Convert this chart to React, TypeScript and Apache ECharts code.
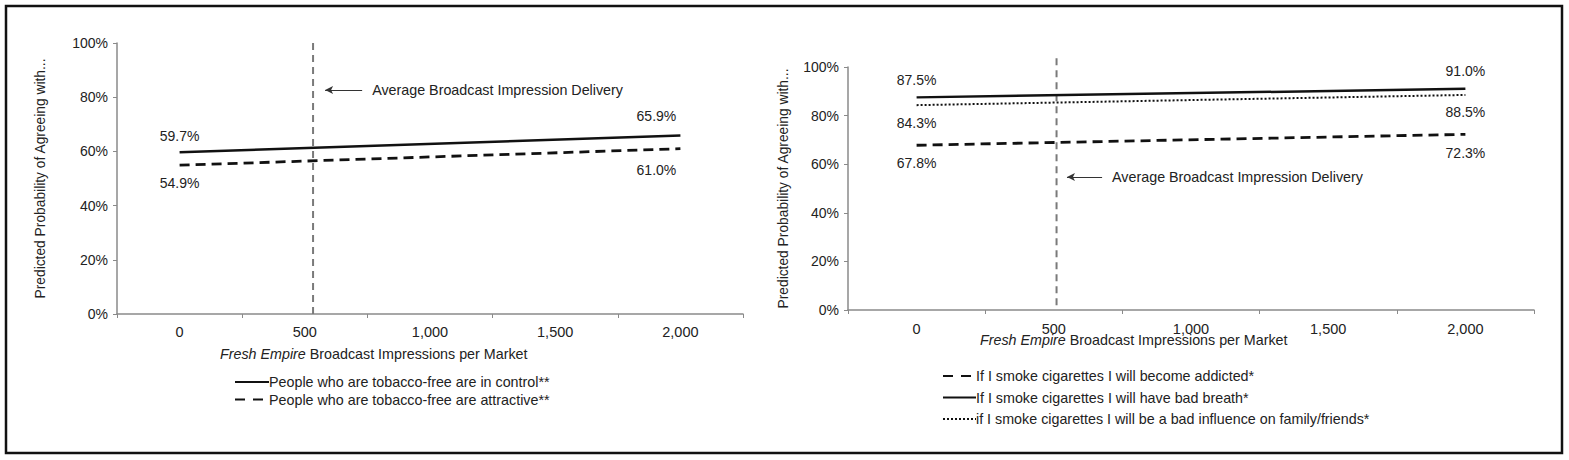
import React, { useEffect, useRef } from "react";
import * as echarts from "echarts";

// ---- data ----
const xCategories = ["0", "500", "1,000", "1,500", "2,000"];
const yTicks = [0, 20, 40, 60, 80, 100];
// Left panel (values only labelled at 0 and 2,000; straight lines between)
const inControl = [59.7, null, null, null, 65.9];
const attractive = [54.9, null, null, null, 61.0];
// Right panel
const addicted = [67.8, null, null, null, 72.3];
const badBreath = [87.5, null, null, null, 91.0];
const badInfluence = [84.3, null, null, null, 88.5];
// average broadcast impression delivery marker (as drawn in each panel)
const avgLeft = 533;
const avgRight = 510;

const leftNames = [
  "People who are tobacco-free are in control**",
  "People who are tobacco-free are attractive**",
];
const rightNames = [
  "If I smoke cigarettes I will become addicted*",
  "If I smoke cigarettes I will have bad breath*",
  "if I smoke cigarettes I will be a bad influence on family/friends*",
];
const avgText = "Average Broadcast Impression Delivery";
const yName = "Predicted Probability of Agreeing with...";

const FONT = "Liberation Sans, Arial, Helvetica, sans-serif";
const TXT = "#222";
const AX = "#8a8a8a";

function labelled(
  vals: (number | null)[],
  startPos: "top" | "bottom",
  endPos: "top" | "bottom",
  startDist: number,
  endDist: number,
  endOffsetX: number
) {
  return vals.map((v, i) => {
    if (v === null) return null;
    if (i === 0)
      return {
        value: v,
        label: { show: true, position: startPos, distance: startDist },
      };
    if (i === vals.length - 1)
      return {
        value: v,
        label: {
          show: true,
          position: endPos,
          distance: endDist,
          offset: [endOffsetX, 0],
        },
      };
    return { value: v };
  });
}

const labelStyle = {
  show: false,
  color: TXT,
  fontSize: 14,
  fontFamily: FONT,
  formatter: (p: any) => `${Number(p.value).toFixed(1)}%`,
};

const DASH = [10, 6];
const LEGEND_DASH = [10, 8, 10, 30];

export default function App() {
  const ref = useRef<HTMLDivElement>(null);
  useEffect(() => {
    if (!ref.current) return;
    const chart = echarts.init(ref.current, undefined, { renderer: "svg" });

    const catAxis = (grid: number, margin: number) => ({
      type: "category",
      gridIndex: grid,
      data: xCategories,
      boundaryGap: true,
      axisLine: { onZero: false, lineStyle: { color: AX, width: 1.5 } },
      axisTick: { show: true, length: 4, lineStyle: { color: AX } },
      axisLabel: { color: TXT, fontSize: 14.5, fontFamily: FONT, margin },
    });
    const hiddenX = (grid: number) => ({
      type: "value",
      gridIndex: grid,
      min: -250,
      max: 2250,
      show: false,
    });
    const valAxis = (grid: number, gap: number) => ({
      type: "value",
      gridIndex: grid,
      min: 0,
      max: 100,
      interval: 20,
      splitLine: { show: false },
      axisLine: { show: true, onZero: false, lineStyle: { color: AX, width: 1.5 } },
      axisTick: { show: true, length: 4, lineStyle: { color: AX } },
      axisLabel: {
        color: TXT,
        fontSize: 14,
        fontFamily: FONT,
        margin: 9,
        formatter: (v: number) => (yTicks.includes(v) ? `${v}%` : ""),
      },
      name: yName,
      nameLocation: "middle",
      nameRotate: 90,
      nameGap: gap,
      nameTextStyle: { color: TXT, fontSize: 13.8, fontFamily: FONT },
    });

    const dataLine = (
      name: string,
      xi: number,
      yi: number,
      data: any[],
      type: any,
      width = 2.5
    ) => ({
      name,
      type: "line",
      xAxisIndex: xi,
      yAxisIndex: yi,
      data,
      connectNulls: true,
      symbol: "circle",
      symbolSize: 1,
      showSymbol: true,
      color: "#111",
      itemStyle: { color: "transparent", borderWidth: 0 },
      lineStyle: { color: "#111", width, type },
      label: labelStyle,
      z: 3,
    });

    const avgSeries = (
      xi: number,
      yi: number,
      avg: number,
      y0: number,
      y1: number,
      arrowFrom: number,
      arrowTo: number,
      arrowY: number
    ) => ({
      type: "line",
      xAxisIndex: xi,
      yAxisIndex: yi,
      data: [
        [avg, y0],
        [avg, y1],
      ],
      clip: false,
      symbol: "none",
      showSymbol: false,
      lineStyle: { color: "#7a7a7a", width: 2, type: [7, 5] },
      silent: true,
      z: 2,
      markLine: {
        silent: true,
        symbol: ["arrow", "none"],
        symbolSize: [6, 8],
        lineStyle: { color: "#333", width: 1, type: "solid" },
        label: {
          show: true,
          position: "end",
          distance: 10,
          color: TXT,
          fontSize: 14.3,
          fontFamily: FONT,
          formatter: avgText,
        },
        data: [
          [
            { coord: [arrowFrom, arrowY], symbol: "arrow" },
            { coord: [arrowTo, arrowY], symbol: "none" },
          ],
        ],
      },
    });

    const legendTxt = { color: TXT, fontSize: 14.3, fontFamily: FONT, padding: [0, 0, 0, -5] };

    const option: any = {
      animation: false,
      backgroundColor: "#fff",
      textStyle: { fontFamily: FONT },
      grid: [
        { left: 117, top: 43, width: 626, height: 271 },
        { left: 848, top: 67, width: 686, height: 243 },
      ],
      xAxis: [catAxis(0, 10), hiddenX(0), catAxis(1, 11), hiddenX(1)],
      yAxis: [valAxis(0, 70), valAxis(1, 58)],
      legend: [
        {
          orient: "vertical",
          left: 229,
          top: 370,
          itemWidth: 34,
          itemHeight: 14,
          itemGap: 3.5,
          itemStyle: { color: "transparent", borderWidth: 0 },
          textStyle: legendTxt,
          data: [
            { name: leftNames[0] },
            { name: leftNames[1], lineStyle: { type: LEGEND_DASH } },
          ],
          selectedMode: false,
        },
        {
          orient: "vertical",
          left: 937,
          top: 364,
          itemWidth: 33,
          itemHeight: 14,
          itemGap: 7.5,
          itemStyle: { color: "transparent", borderWidth: 0 },
          textStyle: legendTxt,
          data: [
            { name: rightNames[0], lineStyle: { type: LEGEND_DASH } },
            { name: rightNames[1] },
            { name: rightNames[2] },
          ],
          selectedMode: false,
        },
      ],
      series: [
        dataLine(leftNames[0], 0, 0, labelled(inControl, "top", "top", 9, 12, -24), "solid"),
        dataLine(leftNames[1], 0, 0, labelled(attractive, "bottom", "bottom", 10, 14, -24), DASH, 2.8),
        avgSeries(1, 0, avgLeft, 0, 100, 581, 729, 82.7),
        dataLine(rightNames[0], 2, 1, labelled(addicted, "bottom", "bottom", 10, 11, 0), DASH, 2.8),
        dataLine(rightNames[1], 2, 1, labelled(badBreath, "top", "top", 10, 10, 0), "solid"),
        dataLine(rightNames[2], 2, 1, labelled(badInfluence, "bottom", "bottom", 10, 10, 0), [2, 2], 2),
        avgSeries(3, 1, avgRight, 2, 103.7, 548, 676, 54.7),
      ],
      graphic: [
        {
          type: "rect",
          shape: { x: 6, y: 6, width: 1556, height: 447 },
          style: { fill: "none", stroke: "#111", lineWidth: 2.5 },
          silent: true,
        },
        {
          type: "text",
          x: 220,
          y: 354,
          style: {
            text: "{i|Fresh Empire} Broadcast Impressions per Market",
            font: `14.3px ${FONT}`,
            fill: TXT,
            verticalAlign: "middle",
            rich: { i: { fontStyle: "italic", fontSize: 14.3, fontFamily: FONT, fill: TXT } },
          },
        },
        {
          type: "text",
          x: 980,
          y: 340,
          style: {
            text: "{i|Fresh Empire} Broadcast Impressions per Market",
            font: `14.3px ${FONT}`,
            fill: TXT,
            verticalAlign: "middle",
            rich: { i: { fontStyle: "italic", fontSize: 14.3, fontFamily: FONT, fill: TXT } },
          },
        },
      ],
    };
    chart.setOption(option);
    return () => chart.dispose();
  }, []);

  return (
    <div
      ref={ref}
      style={{ position: "fixed", left: 0, top: 0, width: 1569, height: 460, background: "#fff" }}
    />
  );
}
